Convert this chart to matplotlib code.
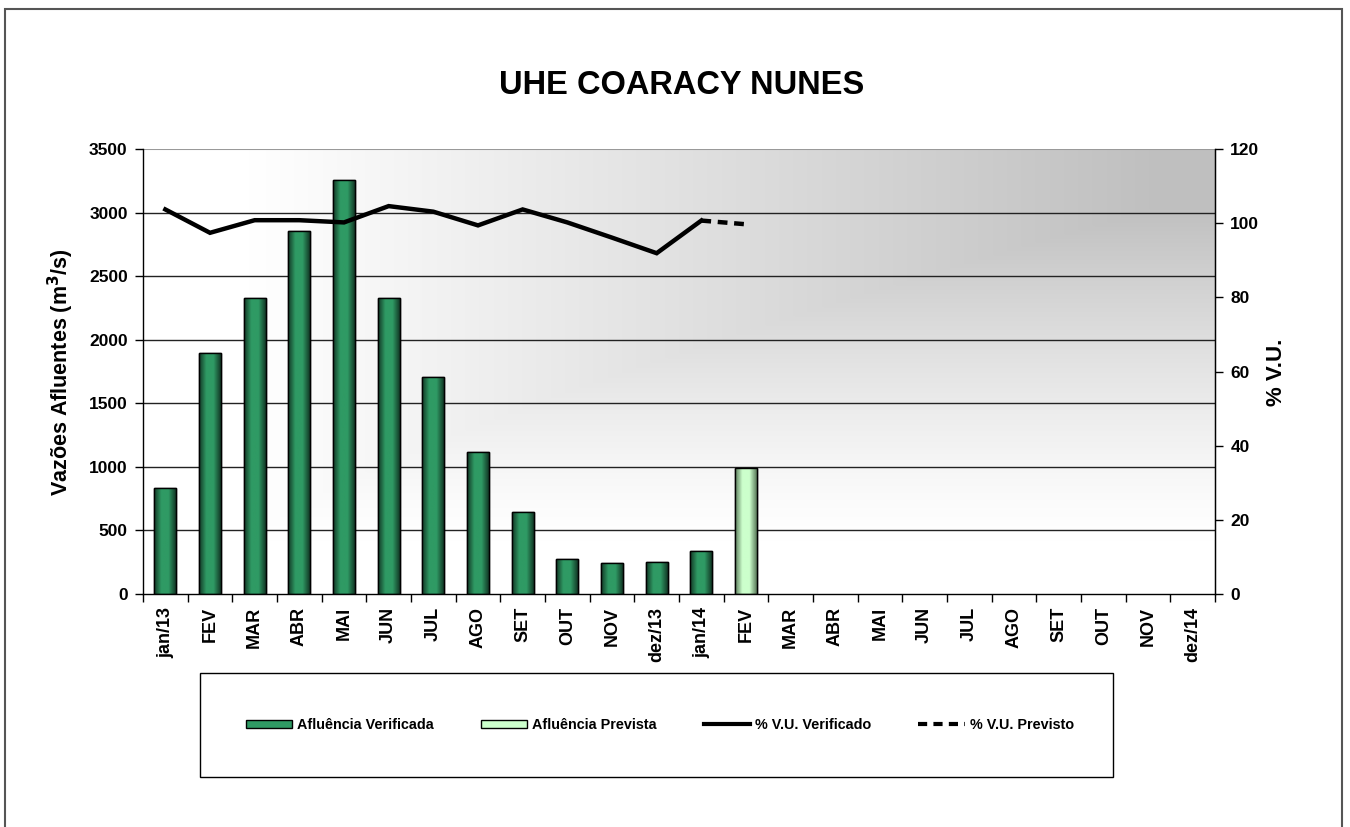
import numpy as np
import matplotlib
matplotlib.use("Agg")
import matplotlib.pyplot as plt
from matplotlib.patches import Rectangle, Patch
from matplotlib.lines import Line2D
from matplotlib.colors import LinearSegmentedColormap

# ---------------- data ----------------
months = ['jan/13', 'FEV', 'MAR', 'ABR', 'MAI', 'JUN', 'JUL', 'AGO', 'SET', 'OUT',
          'NOV', 'dez/13', 'jan/14', 'FEV', 'MAR', 'ABR', 'MAI', 'JUN', 'JUL', 'AGO',
          'SET', 'OUT', 'NOV', 'dez/14']
afl_verificada = [830, 1895, 2325, 2855, 3255, 2325, 1705, 1120, 645, 273, 240, 255, 342]
afl_prevista_idx = [13]
afl_prevista = [990]
vu_verificado = [103.7, 97.4, 100.8, 100.8, 100.2, 104.6, 103.1, 99.4, 103.7, 100.2,
                 96.1, 91.9, 100.7]
vu_previsto_idx = [12, 13]
vu_previsto = [100.7, 99.7]

left_ticks = [0, 500, 1000, 1500, 2000, 2500, 3000, 3500]
right_ticks = [0, 20, 40, 60, 80, 100, 120]

FONT = ['Liberation Sans', 'DejaVu Sans']
plt.rcParams['font.family'] = FONT

W, H = 1350, 827
fig = plt.figure(figsize=(W / 100, H / 100), dpi=100)
fig.patch.set_facecolor('white')

# outer frame
fig.patches.append(Rectangle((5 / W, -0.05), (1342 - 5) / W, 1 - 9 / H + 0.05,
                             transform=fig.transFigure, fill=False,
                             edgecolor='#555555', linewidth=1.5))

ax = fig.add_axes([143 / W, 1 - 594 / H, (1215 - 143) / W, (594 - 149) / H])
ax.patch.set_visible(False)

# background gradient (from top-right corner)
nx, ny = 400, 300
u = np.linspace(0, 1, nx)[None, :]
v = np.linspace(1, 0, ny)[:, None]
fx = np.clip((u - 0.1) / 0.85, 0, 1)
fy = np.clip((v - 0.12) / 0.75, 0, 1) ** 1.3
f = np.minimum(fx, fy)
g = 1 - 0.25 * f
ax.imshow(np.dstack([g, g, g]), extent=[0, 1, 0, 1], transform=ax.transAxes,
          aspect='auto', zorder=-5, interpolation='bilinear')

n = len(months)
x = np.arange(n)
ax.set_xlim(-0.5, n - 0.5)
ax.set_ylim(0, 3500)

# gridlines
for t in left_ticks[1:-1]:
    ax.axhline(t, color='#222222', linewidth=1.0, zorder=0)
ax.axhline(3500, color='#999999', linewidth=1.5, zorder=0)

bw = 0.49


def gradient_bars(xs, vals, c_center, c_edge):
    cmap = LinearSegmentedColormap.from_list('g', [c_edge, c_center, c_center, c_edge])
    bars = ax.bar(xs, vals, width=bw, color=c_center, edgecolor='black',
                  linewidth=1.0, zorder=2)
    grad = np.linspace(0, 1, 64)[None, :]
    for b in bars:
        bx, by = b.get_x(), b.get_y()
        im = ax.imshow(grad, extent=[bx, bx + b.get_width(), by, by + b.get_height()],
                       cmap=cmap, aspect='auto', zorder=2.1, interpolation='bilinear')
        im.set_clip_path(b)
        ax.add_patch(Rectangle((bx, by), b.get_width(), b.get_height(), fill=False,
                               edgecolor='black', linewidth=1.0, zorder=2.2))
    return bars


gradient_bars(x[:len(afl_verificada)], afl_verificada, '#2f9a64', '#123826')
gradient_bars(np.array(afl_prevista_idx), afl_prevista, '#ccffcc', '#5a7a5a')
ax.set_xlim(-0.5, n - 0.5)
ax.set_ylim(0, 3500)

# axes styling
for s in ['left', 'right', 'bottom']:
    ax.spines[s].set_color('black')
    ax.spines[s].set_linewidth(1.0)
ax.spines['top'].set_visible(False)
ax.set_yticks(left_ticks)
ax.set_yticklabels([str(t) for t in left_ticks], fontsize=12.5, fontweight='bold')
ax.tick_params(axis='y', direction='out', length=6, width=1, pad=5)
ax.set_xticks(x)
ax.set_xticklabels(months, rotation=90, fontsize=13, fontweight='bold')
ax.set_xticks(np.arange(-0.5, n, 1), minor=True)
ax.tick_params(axis='x', which='major', length=0, pad=9)
ax.tick_params(axis='x', which='minor', length=6, width=1, direction='out')

ax2 = ax.twinx()
ax2.set_ylim(0, 120)
ax2.set_yticks(right_ticks)
ax2.set_yticklabels([str(t) for t in right_ticks], fontsize=12.5, fontweight='bold')
ax2.tick_params(axis='y', direction='out', length=6, width=1, pad=5)
for s in ['top', 'left', 'bottom']:
    ax2.spines[s].set_visible(False)
ax2.spines['right'].set_color('black')

ax2.plot(x[:len(vu_verificado)], vu_verificado, color='black', linewidth=3.2,
         solid_joinstyle='miter', zorder=5)
ax2.plot(vu_previsto_idx, vu_previsto, color='black', linewidth=3.2,
         linestyle=(0, (2.2, 1.5)), zorder=5)

# texts
fig.text(682 / W, 1 - 85 / H, 'UHE COARACY NUNES', ha='center', va='center',
         fontsize=23.5, fontweight='bold')
fig.text(61 / W, 1 - 372 / H, 'Vazões Afluentes (m$^\\mathbf{3}$/s)', ha='center',
         va='center', rotation=90, fontsize=15.5, fontweight='bold')
fig.text(1277 / W, 1 - 372 / H, '% V.U.', ha='center', va='center', rotation=90,
         fontsize=16, fontweight='bold')

# legend box
fig.patches.append(Rectangle((200 / W, 1 - 777 / H), (1113 - 200) / W, (777 - 673) / H,
                             transform=fig.transFigure, fill=True, facecolor='white',
                             edgecolor='black', linewidth=1.0, zorder=1))
handles = [Patch(facecolor='#2f9a64', edgecolor='black', linewidth=1.0),
           Patch(facecolor='#ccffcc', edgecolor='black', linewidth=1.0),
           Line2D([], [], color='black', linewidth=3),
           Line2D([], [], color='black', linewidth=3, linestyle=(0, (2.2, 1.5)))]
labels = ['Afluência Verificada', 'Afluência Prevista', '% V.U. Verificado',
          '% V.U. Previsto']
leg = fig.legend(handles, labels, loc='center', bbox_to_anchor=(660 / W, 1 - 725 / H),
                 ncol=4, frameon=False, handlelength=3.2, handleheight=0.55,
                 handletextpad=0.35, columnspacing=3.25,
                 prop={'family': FONT, 'weight': 'bold', 'size': 10.4})
leg.set_zorder(3)

fig.savefig('out.png', dpi=100)
